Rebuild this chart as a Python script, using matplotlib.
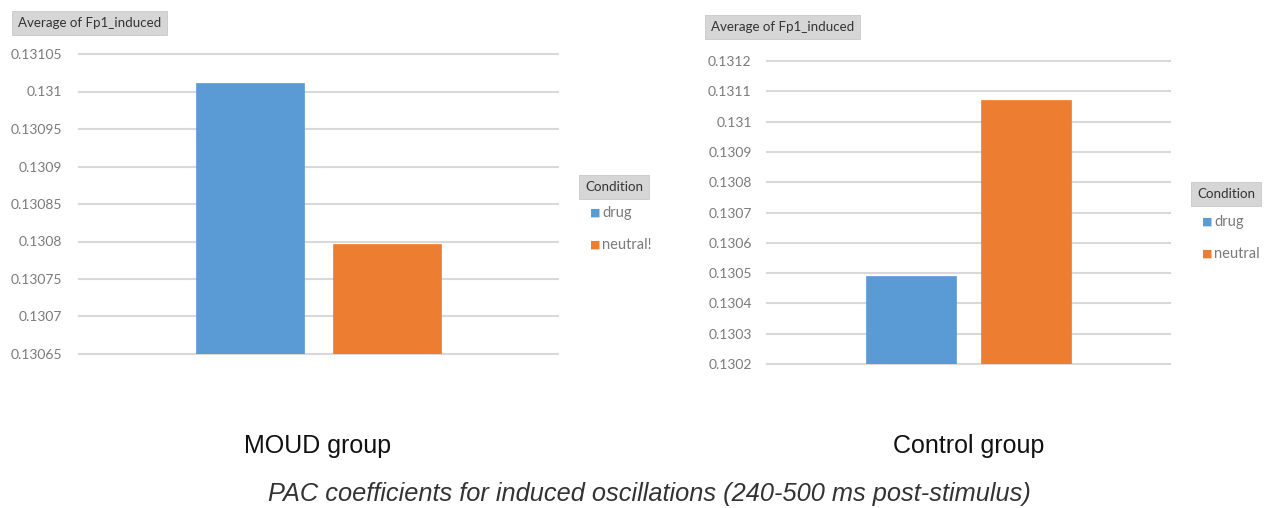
import matplotlib
matplotlib.use("Agg")
import matplotlib.pyplot as plt
from matplotlib.ticker import FixedLocator, FixedFormatter

plt.rcParams['font.family'] = ['Lato', 'DejaVu Sans']

# Data
conditions = ["drug", "neutral"]
moud_values = [0.131012, 0.130797]
control_values = [0.13049, 0.13107]

moud_ticks = [0.13065, 0.1307, 0.13075, 0.1308, 0.13085, 0.1309, 0.13095, 0.131, 0.13105]
moud_ticklabels = ["0.13065", "0.1307", "0.13075", "0.1308", "0.13085", "0.1309", "0.13095", "0.131", "0.13105"]
control_ticks = [0.1302, 0.1303, 0.1304, 0.1305, 0.1306, 0.1307, 0.1308, 0.1309, 0.131, 0.1311, 0.1312]
control_ticklabels = ["0.1302", "0.1303", "0.1304", "0.1305", "0.1306", "0.1307", "0.1308", "0.1309", "0.131", "0.1311", "0.1312"]

group_labels = ["MOUD group", "Control group"]
caption = "PAC coefficients for induced oscillations (240-500 ms post-stimulus)"
field_label = "Average of Fp1_induced"
legend_title = "Condition"
legend_labels_left = ["drug", "neutral!"]
legend_labels_right = ["drug", "neutral"]

colors = ["#5B9BD5", "#ED7D31"]

W, H = 1268, 508
fig = plt.figure(figsize=(W / 100, H / 100), dpi=100)
fig.patch.set_facecolor("white")


def px_axes(x0, y0, x1, y1):
    return fig.add_axes([x0 / W, 1 - y1 / H, (x1 - x0) / W, (y1 - y0) / H])


def draw_panel(ax, values, ticks, ticklabels, pad):
    offsets = [-0.143, 0.143]
    width = 0.225
    for off, v, c in zip(offsets, values, colors):
        ax.bar(off, v - ticks[0], bottom=ticks[0], width=width, color=c,
               edgecolor=c, linewidth=0.5, zorder=3)
    ax.set_xlim(-0.5, 0.5)
    ax.set_ylim(ticks[0], ticks[-1])
    ax.yaxis.set_major_locator(FixedLocator(ticks))
    ax.yaxis.set_major_formatter(FixedFormatter(ticklabels))
    ax.set_xticks([])
    for t in ticks:
        ax.axhline(t, color="#d9d9d9", linewidth=1.5, zorder=1, clip_on=False)
    for s in ax.spines.values():
        s.set_visible(False)
    ax.tick_params(axis="y", length=0, pad=pad, labelsize=10, labelcolor="#7a7a7a")
    ax.set_facecolor("white")


ax1 = px_axes(79, 54, 558, 354)
draw_panel(ax1, moud_values, moud_ticks, moud_ticklabels, pad=12)

ax2 = px_axes(767, 61, 1170, 364)
draw_panel(ax2, control_values, control_ticks, control_ticklabels, pad=11)

box_style = dict(boxstyle="square,pad=0.45", facecolor="#d6d6d6", edgecolor="#c8c8c8", linewidth=0.6)

# Field headers
fig.text(18 / W, 1 - 23 / H, field_label, fontsize=9.6, color="#333333", va="center", ha="left", bbox=box_style)
fig.text(711 / W, 1 - 27 / H, field_label, fontsize=9.6, color="#333333", va="center", ha="left", bbox=box_style)


def draw_legend(x, y_title, y_items, labels):
    fig.text(x / W, 1 - y_title / H, legend_title, fontsize=9.6, color="#333333",
             va="center", ha="left", bbox=box_style)
    for yy, lab, c in zip(y_items, labels, colors):
        fig.text((x + 5) / W, 1 - yy / H, "\u25A0", fontsize=8, color=c, va="center", ha="left",
                 family=["DejaVu Sans"])
        fig.text((x + 17) / W, 1 - yy / H, lab, fontsize=10.5, color="#7a7a7a", va="center", ha="left")


draw_legend(585, 187, [213, 245], legend_labels_left)
draw_legend(1197, 194, [222, 254], legend_labels_right)

# Group labels and caption
fig.text(318 / W, 1 - 446 / H, group_labels[0], fontsize=18, color="#111111",
         ha="center", va="center", family=["Liberation Sans"])
fig.text(969 / W, 1 - 446 / H, group_labels[1], fontsize=18, color="#111111",
         ha="center", va="center", family=["Liberation Sans"])
fig.text(649 / W, 1 - 494 / H, caption, fontsize=18.3, color="#333333", style="italic",
         ha="center", va="center", family=["Liberation Sans"])

fig.savefig("out.png", dpi=100, facecolor="white")
